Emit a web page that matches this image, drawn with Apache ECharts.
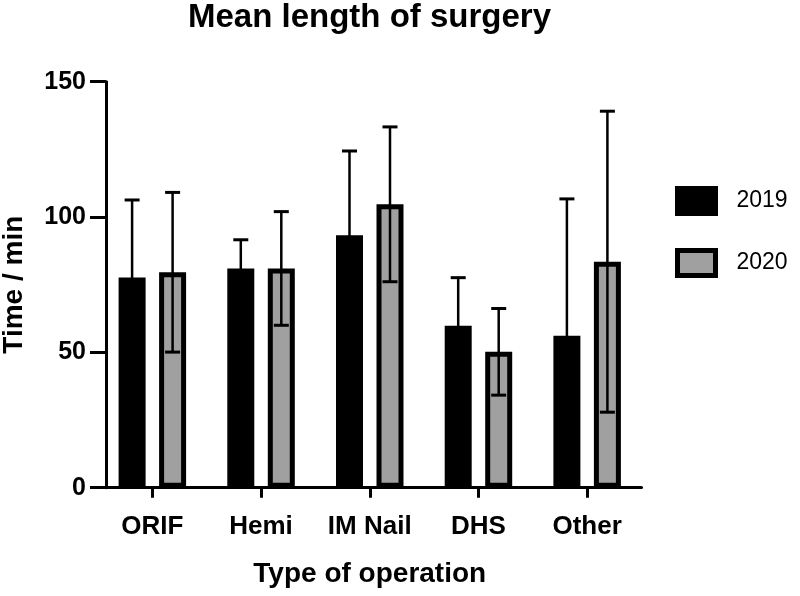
<!DOCTYPE html>
<html>
<head>
<meta charset="utf-8">
<script src="https://cdn.jsdelivr.net/npm/echarts@6/dist/echarts.min.js"></script>
<style>html,body{margin:0;padding:0;background:#fff}#c{width:800px;height:596px}</style>
</head>
<body>
<div id="c"></div>
<script>
var categories = ['ORIF', 'Hemi', 'IM Nail', 'DHS', 'Other'];
var mean2019 = [77.7, 81, 93.3, 59.8, 56.1];
var sd2019 = [28.6, 10.6, 31.1, 17.8, 50.6];
var mean2020 = [79.6, 81, 104.7, 50.2, 83.5];
var sd2020 = [29.5, 21, 28.6, 16, 55.6];
var yTicks = [0, 50, 100, 150];

var FONT = 'Liberation Sans, Arial, sans-serif';
var BAR_W = 27, BORDER = 5, GAP = 0.5;
var HALF_SPACING = BAR_W * (1 + GAP) / 2;

function errSeries(means, sds, dir) {
  return {
    type: 'custom',
    z: 10,
    data: means.map(function (m, i) { return [i, m, sds[i]]; }),
    renderItem: function (params, api) {
      var i = api.value(0), m = api.value(1), s = api.value(2);
      var base = api.coord([i, m]);
      var x = base[0] + dir * HALF_SPACING;
      var top = api.coord([i, m + s])[1];
      var bot = api.coord([i, m - s])[1];
      var cap = 7.5;
      return {
        type: 'group',
        children: [
          { type: 'line', shape: { x1: x, y1: top, x2: x, y2: bot }, style: { stroke: '#000', lineWidth: 2.5 } },
          { type: 'line', shape: { x1: x - cap, y1: top, x2: x + cap, y2: top }, style: { stroke: '#000', lineWidth: 3 } },
          { type: 'line', shape: { x1: x - cap, y1: bot, x2: x + cap, y2: bot }, style: { stroke: '#000', lineWidth: 3 } }
        ]
      };
    }
  };
}

var chart = echarts.init(document.getElementById('c'), null, { renderer: 'canvas' });
chart.setOption({
  animation: false,
  backgroundColor: '#fff',
  textStyle: { fontFamily: FONT },
  title: {
    text: 'Mean length of surgery',
    left: 188, top: 1, padding: 0,
    textStyle: { fontFamily: FONT, fontSize: 33, fontWeight: 'bold', color: '#000' }
  },
  legend: {
    data: [
      { name: '2019', itemStyle: { color: '#000', borderColor: '#000', borderWidth: 5 } },
      { name: '2020', itemStyle: { color: '#a0a0a0', borderColor: '#000', borderWidth: 5 } }
    ],
    orient: 'vertical',
    left: 675, top: 186, padding: 0,
    itemWidth: 38, itemHeight: 25, itemGap: 32,
    icon: 'rect',
    textStyle: { fontFamily: FONT, fontSize: 23, lineHeight: 25, color: '#000', padding: [0, 0, 0, 16] }
  },
  grid: { left: 98, width: 543.5, top: 81.7, height: 406, containLabel: false, outerBoundsMode: 'none' },
  xAxis: {
    type: 'category',
    data: categories,
    name: 'Type of operation',
    nameLocation: 'middle',
    nameGap: 73,
    nameTextStyle: { fontFamily: FONT, fontSize: 28, fontWeight: 'bold', color: '#000' },
    axisLine: { show: true, lineStyle: { color: '#000', width: 3 } },
    axisTick: { show: true, alignWithLabel: true, interval: 0, length: 10, lineStyle: { color: '#000', width: 3 } },
    axisLabel: { interval: 0, margin: 26, fontFamily: FONT, fontSize: 26, fontWeight: 'bold', color: '#000' }
  },
  yAxis: {
    type: 'value',
    min: 0, max: 150, interval: 50,
    offset: -8,
    name: 'Time / min',
    nameLocation: 'middle',
    nameRotate: 90,
    nameGap: 78,
    nameTextStyle: { fontFamily: FONT, fontSize: 28, fontWeight: 'bold', color: '#000' },
    axisLine: { show: true, lineStyle: { color: '#000', width: 3 } },
    axisTick: { show: true, length: 16, lineStyle: { color: '#000', width: 3 } },
    splitLine: { show: false },
    axisLabel: {
      margin: 20, fontFamily: FONT, fontSize: 25, fontWeight: 'bold', color: '#000',
      formatter: function (v) { return yTicks.indexOf(v) >= 0 ? String(v) : ''; }
    }
  },
  series: [
    {
      name: '2019', type: 'bar', data: mean2019,
      barWidth: BAR_W, barGap: (GAP * 100) + '%',
      itemStyle: { color: '#000', borderColor: '#000', borderWidth: BORDER }
    },
    {
      name: '2020', type: 'bar', data: mean2020,
      barWidth: BAR_W, barGap: (GAP * 100) + '%',
      itemStyle: { color: '#a0a0a0', borderColor: '#000', borderWidth: BORDER }
    },
    errSeries(mean2019, sd2019, -1),
    errSeries(mean2020, sd2020, 1)
  ]
});
</script>
</body>
</html>
